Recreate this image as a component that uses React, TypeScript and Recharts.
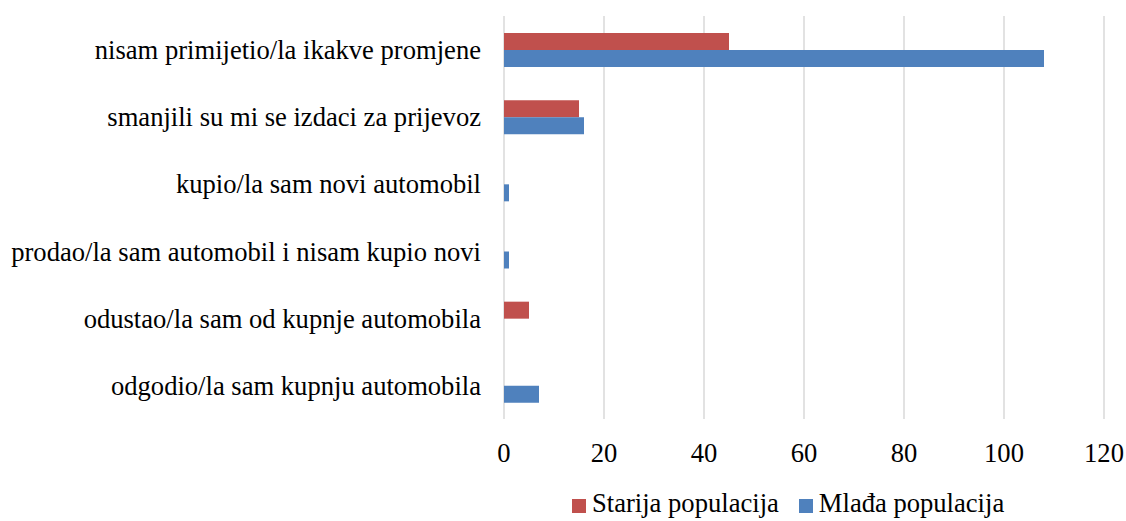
import React from "react";
import { BarChart, Bar, XAxis, YAxis, CartesianGrid, Legend } from "recharts";

const categories = [
  "nisam primijetio/la ikakve promjene",
  "smanjili su mi se izdaci za prijevoz",
  "kupio/la sam novi automobil",
  "prodao/la sam automobil i nisam kupio novi",
  "odustao/la sam od kupnje automobila",
  "odgodio/la sam kupnju automobila",
];
const starija = [45, 15, 0, 0, 5, 0];
const mlada = [108, 16, 1, 1, 0, 7];
const xTicks = [0, 20, 40, 60, 80, 100, 120];
const seriesNames = ["Starija populacija", "Mlađa populacija"];
const seriesColors = ["#C0504D", "#4F81BD"];

const data = categories.map((name, i) => ({ name, starija: starija[i], mlada: mlada[i] }));

const FONT = "'Liberation Serif', 'Times New Roman', serif";
const FS = 26.6;

const renderLegend = () => (
  <div style={{ display: "flex", fontFamily: FONT, fontSize: FS, lineHeight: "30px", color: "#000", whiteSpace: "nowrap" }}>
    {seriesNames.map((n, i) => (
      <div key={n} style={{ display: "flex", alignItems: "flex-start", marginRight: i === 0 ? 20 : 0 }}>
        <div style={{ width: 14, height: 14, marginTop: 11, marginRight: 6, background: seriesColors[i] }} />
        <span>{n}</span>
      </div>
    ))}
  </div>
);

export default function App() {
  return (
    <div style={{ position: "absolute", left: 0, top: 0, width: 1126, height: 521, background: "#fff" }}>
      <BarChart
        width={1126}
        height={521}
        data={data}
        layout="vertical"
        margin={{ top: 16, right: 22, left: 0, bottom: 0 }}
        barGap={0}
      >
        <CartesianGrid horizontal={false} stroke="#d9d9d9" strokeWidth={1.5} />
        <XAxis
          type="number"
          domain={[0, 120]}
          ticks={xTicks}
          axisLine={false}
          tickLine={false}
          tickSize={0}
          tickMargin={24}
          height={102}
          tick={{ fontFamily: FONT, fontSize: FS, fill: "#000" }}
        />
        <YAxis
          type="category"
          dataKey="name"
          width={504}
          axisLine={false}
          tickLine={false}
          tickSize={0}
          tickMargin={23}
          tick={{ fontFamily: FONT, fontSize: FS, fill: "#000" }}
          interval={0}
        />
        <Legend
          layout="horizontal"
          verticalAlign="middle"
          align="center"
          content={renderLegend}
          wrapperStyle={{ top: 488, left: 572, width: "auto", height: 30 }}
        />
        <Bar dataKey="starija" name={seriesNames[0]} fill={seriesColors[0]} barSize={17} isAnimationActive={false} />
        <Bar dataKey="mlada" name={seriesNames[1]} fill={seriesColors[1]} barSize={17} isAnimationActive={false} />
      </BarChart>
    </div>
  );
}
